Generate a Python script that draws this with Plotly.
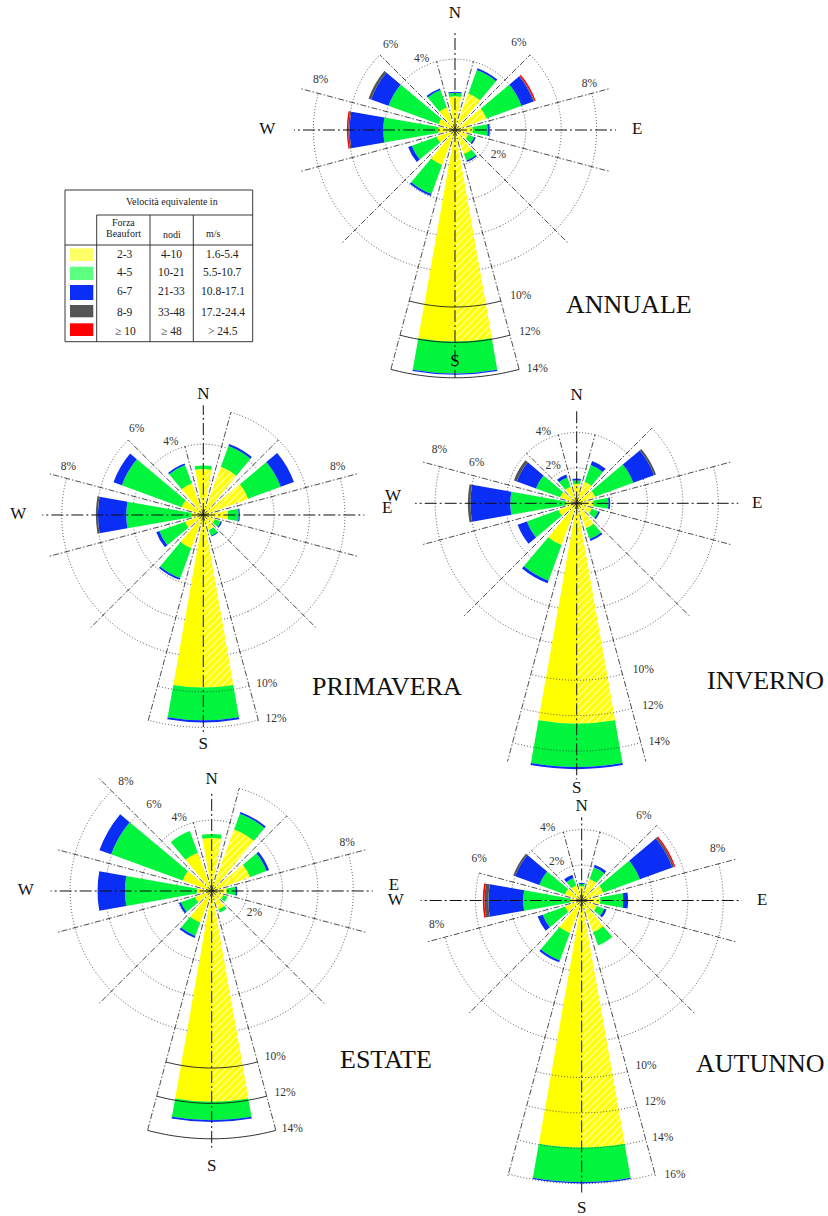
import math
import numpy as np
import plotly.graph_objects as go

W, H = 828, 1216
PX = 17.7          # pixels per 1 % of frequency
FONT = "Liberation Serif"

# ---------------- data ----------------
DIRS = [0, 30, 60, 90, 120, 150, 180, 210, 240, 270, 300, 330]
BOUNDS = [15, 45, 75, 105, 135, 165, 195, 225, 255, 285, 315, 345]

CLASS_LABELS = ["2-3", "4-5", "6-7", "8-9", "≥ 10"]
NODI = ["4-10", "10-21", "21-33", "33-48", "≥ 48"]
MS = ["1.6-5.4", "5.5-10.7", "10.8-17.1", "17.2-24.4", "> 24.5"]
COLORS = ["#FFFF00", "#00F53C", "#0A2EF5", "#555555", "#FF0000"]
SWATCH = ["#FFFF66", "#5CFF80", "#0A2EF5", "#555555", "#FF0000"]

ANNUALE_Y = [1.9, 2.2, 1.9, 1.0, 0.8, 1.45, 11.95, 2.1, 1.1, 0.95, 1.0, 1.35]
ANNUALE_G = [0.2, 1.4, 2.1, 0.85, 0.35, 0.4, 1.8, 1.75, 1.5, 3.1, 3.0, 1.05]
ANNUALE_B = [0.06, 0.12, 0.72, 0.12, 0.1, 0.08, 0.08, 0.12, 0.22, 1.9, 1.05, 0.1]
ANNUALE_K = [0, 0, 0.05, 0, 0, 0, 0, 0, 0, 0.08, 0.15, 0]
ANNUALE_R = [0, 0, 0.08, 0, 0, 0, 0, 0, 0, 0.08, 0, 0]

PRIMAVERA_Y = [2.6, 2.9, 2.7, 1.4, 0.7, 0.9, 9.75, 2.0, 1.1, 0.7, 1.3, 1.9]
PRIMAVERA_G = [0.2, 1.25, 1.95, 0.6, 0.35, 0.35, 1.85, 1.8, 1.55, 3.65, 3.6, 1.1]
PRIMAVERA_B = [0, 0.12, 0.8, 0.07, 0.08, 0.05, 0.12, 0.1, 0.18, 1.6, 0.5, 0.1]
PRIMAVERA_K = [0, 0, 0, 0, 0, 0, 0, 0, 0, 0.12, 0, 0]
PRIMAVERA_R = [0, 0, 0, 0, 0, 0, 0, 0, 0, 0, 0, 0]

INVERNO_Y = [1.1, 1.3, 1.1, 0.95, 0.9, 1.5, 12.45, 2.5, 1.1, 0.6, 1.0, 1.0]
INVERNO_G = [0.2, 1.0, 2.3, 0.85, 0.4, 0.65, 2.45, 2.15, 1.9, 3.15, 1.45, 0.55]
INVERNO_B = [0.1, 0.25, 1.25, 0.1, 0.1, 0.12, 0.12, 0.15, 0.55, 2.25, 1.15, 0.18]
INVERNO_K = [0, 0, 0.12, 0, 0, 0, 0, 0, 0, 0.15, 0.18, 0]
INVERNO_R = [0, 0, 0, 0, 0, 0, 0, 0, 0, 0, 0, 0]

ESTATE_Y = [3.0, 3.7, 2.3, 0.85, 0.7, 1.1, 11.9, 1.9, 1.0, 0.85, 1.75, 2.3]
ESTATE_G = [0.22, 0.95, 1.0, 0.5, 0.25, 0.2, 1.05, 0.8, 0.85, 4.05, 4.3, 1.3]
ESTATE_B = [0, 0.1, 0.15, 0.1, 0, 0, 0.1, 0.12, 0.12, 1.55, 0.7, 0]
ESTATE_K = [0, 0, 0, 0, 0, 0, 0, 0, 0, 0, 0, 0]
ESTATE_R = [0, 0, 0, 0, 0, 0, 0, 0, 0, 0, 0, 0]

AUTUNNO_Y = [0.8, 1.3, 1.3, 1.05, 0.9, 1.9, 13.95, 1.95, 1.0, 0.65, 1.0, 0.9]
AUTUNNO_G = [0.15, 0.7, 2.2, 1.3, 0.45, 0.8, 1.95, 1.65, 1.35, 2.65, 1.55, 0.45]
AUTUNNO_B = [0.05, 0.15, 1.95, 0.28, 0.15, 0, 0.08, 0.12, 0.3, 1.97, 1.45, 0.2]
AUTUNNO_K = [0, 0, 0.1, 0, 0, 0, 0, 0, 0, 0.22, 0.12, 0]
AUTUNNO_R = [0, 0, 0.08, 0, 0, 0, 0, 0, 0, 0.1, 0, 0]

# hatch of the 2-3 class (angular offset / width of the hatched part)
HATCH_OFFSET = [0, -10, -10, -10, -10, -10, -10, 0, 0, 0, 0, 0]
HATCH_WIDTH = [10, 20, 20, 20, 20, 20, 10, 0, 0, 0, 0, 0]

# polar panels: (sector in compass bearings, bearings owned for grid/labels, radial range)
PANELS_TOP = [([-50, 50], [-50, 50], 7.3),
              ([50, 160], [50, 155], 11.0),
              ([200, 310], [205, 310], 11.0)]
PANELS_FULL = [([0, 360], [205, 515], 11.0)]
S_SECTOR = [155, 205]
BASE_RING = 8      # rings up to this level lie beneath the bars

# ---------------- per-rose grid / label configuration ----------------
ROSES = [
    dict(title="ANNUALE", center=(455, 130), title_pos=(629, 304), panels=PANELS_TOP,
         vals=[ANNUALE_Y, ANNUALE_G, ANNUALE_B, ANNUALE_K, ANNUALE_R],
         arcs=[4, 4, 6, 8, 8, 8, 14, 8, 8, 8, 6, 4],
         lines=[4, 6, 9.1, 9.1, 9.1, 14.1, 14.1, 9.1, 9.1, 9.1, 6, 4],
         axes=dict(n=5.65, s=14.0, e=9.1, w=9.1),
         compass=dict(N=(6.55, 0), S=(13.1, 180), E=(10.3, 90), W=(10.6, 270)),
         pct=[("4%", 4.42, 334.8), ("6%", 6.02, 322.9), ("6%", 6.11, 36.2),
              ("8%", 8.1, 290.4), ("8%", 8.02, 71.1), ("2%", 2.83, 120),
              ("10%", 10.09, 158.4), ("12%", 12.2, 159.7), ("14%", 14.3, 161)],
         rs=14.6, outer_dash="solid"),
    dict(title="PRIMAVERA", center=(203.3, 515), title_pos=(387, 686), panels=PANELS_FULL,
         vals=[PRIMAVERA_Y, PRIMAVERA_G, PRIMAVERA_B, PRIMAVERA_K, PRIMAVERA_R],
         arcs=[4, 6, 6, 8, 8, 8, 12, 8, 8, 8, 6, 4],
         lines=[6, 6, 9.1, 9.1, 9.1, 12.1, 12.1, 9.1, 9.1, 9.1, 6, 4],
         axes=dict(n=6.2, s=12.4, e=9.1, w=9.1),
         compass=dict(N=(6.8, 0), S=(13.0, 180), E=(10.4, 88), W=(10.45, 270)),
         pct=[("4%", 4.53, 336.2), ("6%", 6.13, 322.2), ("8%", 8.09, 289.5),
              ("8%", 8.06, 70.5), ("10%", 10.2, 159.4), ("12%", 12.25, 160.4)],
         rs=13.5, outer_dash="1px,2px"),
    dict(title="INVERNO", center=(576.7, 503.3), title_pos=(765, 680), panels=PANELS_FULL,
         vals=[INVERNO_Y, INVERNO_G, INVERNO_B, INVERNO_K, INVERNO_R],
         arcs=[4, 4, 6, 8, 8, 8, 14, 8, 8, 8, 4, 4],
         lines=[4, 6, 9.1, 9.1, 9.1, 15.1, 15.1, 9.1, 9.1, 9.1, 4, 4],
         axes=dict(n=5.27, s=15.6, e=9.13, w=9.13),
         compass=dict(N=(6.05, 0), S=(16.1, 180), E=(10.2, 90), W=(10.38, 272)),
         pct=[("4%", 4.46, 335), ("2%", 2.49, 327.9), ("8%", 8.31, 291),
              ("6%", 6.08, 291.8), ("10%", 10.14, 158.2), ("12%", 12.23, 159.4),
              ("14%", 14.25, 160.9)],
         rs=16.5, outer_dash="1px,2px"),
    dict(title="ESTATE", center=(211.7, 891), title_pos=(386, 1059), panels=PANELS_FULL,
         vals=[ESTATE_Y, ESTATE_G, ESTATE_B, ESTATE_K, ESTATE_R],
         arcs=[4, 6, 6, 8, 8, 8, 14, 8, 8, 8, 8, 4],
         lines=[6, 6, 9.1, 9.1, 9.1, 14.1, 14.1, 9.1, 9.1, 9.1, 9.1, 4],
         axes=dict(n=5.5, s=14.5, e=9.1, w=9.1),
         compass=dict(N=(6.3, 0), S=(15.6, 180), E=(10.3, 88.5), W=(10.5, 270)),
         pct=[("8%", 7.85, 321.9), ("6%", 5.85, 326.1), ("4%", 4.5, 335.8),
              ("8%", 8.13, 70.4), ("2%", 2.72, 117.6), ("10%", 10.06, 159.1),
              ("12%", 12.16, 160.1), ("14%", 14.2, 161.3)],
         rs=16.0, outer_dash="solid"),
    dict(title="AUTUNNO", center=(581.7, 900.5), title_pos=(760, 1063), panels=PANELS_FULL,
         vals=[AUTUNNO_Y, AUTUNNO_G, AUTUNNO_B, AUTUNNO_K, AUTUNNO_R],
         arcs=[4, 4, 6, 8, 8, 8, 16, 8, 8, 6, 4, 4],
         lines=[4, 6, 9.1, 9.1, 9.1, 16.1, 16.1, 9.1, 9.1, 6, 4, 4],
         axes=dict(n=4.7, s=16.6, e=9.05, w=9.1),
         compass=dict(N=(5.27, 0), S=(17.4, 180), E=(10.2, 90), W=(10.5, 270)),
         pct=[("4%", 4.52, 334.8), ("2%", 2.59, 327), ("6%", 5.93, 36.4),
              ("8%", 8.2, 69.4), ("6%", 6.25, 292.2), ("8%", 8.31, 260.2),
              ("10%", 10.04, 158.8), ("12%", 12.12, 160), ("14%", 14.2, 161.2),
              ("16%", 16.37, 161.2)],
         rs=17.6, outer_dash="1px,2px"),
]

ARC_DASH = "1px,2px"
RAD_DASH = "6px,2px,1.5px,2px"
AX_DASH = "12px,3px,2px,3px"


# ---------------- helpers ----------------
def sector_bbox(m0, m1):
    """bounding box (unit circle) of a polar sector given in math degrees"""
    if m1 - m0 >= 360:
        return -1.0, -1.0, 1.0, 1.0
    angs = [m0, m1] + [a for a in range(-720, 721, 90) if m0 <= a <= m1]
    xs = [0.0] + [math.cos(math.radians(a)) for a in angs]
    ys = [0.0] + [math.sin(math.radians(a)) for a in angs]
    return min(xs), min(ys), max(xs), max(ys)


def inside(b, rng):
    return any(rng[0] <= b + k <= rng[1] for k in (-720, -360, 0, 360, 720))


def wedge_inside(c, half, rng):
    return any(rng[0] <= c - half + k and c + half + k <= rng[1]
               for k in (-720, -360, 0, 360, 720))


def intersect(a0, a1, rng):
    out = []
    for k in (-360, 0, 360):
        lo, hi = max(a0 + k, rng[0]), min(a1 + k, rng[1])
        if hi > lo:
            out.append((lo, hi))
    return out


# ---------------- build panels ----------------
panels = []
for i, rose in enumerate(ROSES):
    for sec, own, R in rose["panels"]:
        panels.append(dict(rose=i, sector=sec, own=own, R=R, s=False))
for i, rose in enumerate(ROSES):
    panels.append(dict(rose=i, sector=S_SECTOR, own=S_SECTOR, R=rose["rs"], s=True))

polar_layouts = {}
for j, p in enumerate(panels):
    p["id"] = "polar" if j == 0 else f"polar{j + 1}"
    for key in ("arc_r", "arc_t", "oarc_r", "oarc_t", "rad_r", "rad_t", "ax_r", "ax_t"):
        p[key] = []
    p["pct"] = []
    p["cmp"] = []
    cx, cy = ROSES[p["rose"]]["center"]
    b0, b1 = p["sector"]
    m0, m1 = 90 - b1, 90 - b0
    x0, y0, x1, y1 = sector_bbox(m0, m1)
    rpx = p["R"] * PX
    left, right = cx + x0 * rpx, cx + x1 * rpx
    top, bottom = cy - y1 * rpx, cy - y0 * rpx
    lay = dict(
        domain=dict(x=[max(0, left / W), min(1, right / W)],
                    y=[max(0, 1 - bottom / H), min(1, 1 - top / H)]),
        radialaxis=dict(range=[0, p["R"]], visible=False),
        angularaxis=dict(rotation=90, direction="clockwise", visible=False),
        bgcolor="rgba(0,0,0,0)", barmode="overlay")
    if m1 - m0 < 360:
        lay["sector"] = [m0, m1]
    polar_layouts[p["id"]] = lay

fig = go.Figure()

for i, rose in enumerate(ROSES):
    rp = sorted([p for p in panels if p["rose"] == i], key=lambda q: not q["s"])

    def owner(b):
        for q in rp:
            if inside(b, q["own"]):
                return q
        return rp[-1]

    def bar_panel(c):
        if c == 180:
            return rp[0]
        for q in rp[1:]:
            if wedge_inside(c, 10, q["sector"]):
                return q
        return rp[1]

    dirs = np.array(DIRS)
    assign = np.array([panels.index(bar_panel(c)) for c in DIRS])
    totals = np.sum(np.array(rose["vals"], dtype=float), axis=0)

    # ---- bars (stacked by explicit base) ----
    base = np.zeros(len(DIRS))
    hw = np.array(HATCH_WIDTH, dtype=float)
    ho = np.array(HATCH_OFFSET, dtype=float)
    for c, v in enumerate(rose["vals"]):
        v = np.array(v, dtype=float)
        for pj in sorted(set(assign)):
            keep = (assign == pj) & (v > 0)
            if keep.any():
                fig.add_trace(go.Barpolar(
                    r=v[keep], theta=dirs[keep], base=base[keep], width=20,
                    marker=dict(color=COLORS[c], line=dict(width=0)),
                    subplot=panels[pj]["id"], hoverinfo="skip", showlegend=False))
            if c == 0:
                keep = (assign == pj) & (v > 0) & (hw > 0)
                if keep.any():
                    fig.add_trace(go.Barpolar(
                        r=v[keep], theta=dirs[keep], base=np.zeros(int(keep.sum())),
                        width=hw[keep], offset=ho[keep],
                        marker=dict(color=COLORS[0], line=dict(width=0),
                                    pattern=dict(shape="/", fgcolor="white",
                                                 bgcolor=COLORS[0], size=5,
                                                 solidity=0.22, fgopacity=0.75)),
                        subplot=panels[pj]["id"], hoverinfo="skip", showlegend=False))
        base = base + v

    # ---- grid arcs (rings beneath the bars are only drawn in the gaps) ----
    for k, c in enumerate(DIRS):
        for lev in range(2, int(round(rose["arcs"][k])) + 1, 2):
            if lev <= BASE_RING and lev < totals[k]:
                spans = [(c - 15, c - 10), (c + 10, c + 15)]
                key = "arc"
            elif lev > BASE_RING:
                spans = [(c - 15, c + 15)]
                key = "oarc"
            else:
                spans = [(c - 15, c + 15)]
                key = "arc"
            for a0, a1 in spans:
                for q in rp:
                    for lo, hi in intersect(a0, a1, q["own"]):
                        th = list(np.arange(lo, hi, 1.0)) + [hi]
                        q[key + "_r"] += [lev] * len(th) + [None]
                        q[key + "_t"] += th + [None]
    # ---- sector boundary lines ----
    for b, ext in zip(BOUNDS, rose["lines"]):
        q = owner(b)
        q["rad_r"] += [0, ext, None]
        q["rad_t"] += [b, b, None]
    # ---- N-S / E-W axes ----
    ax = rose["axes"]
    for b, ext in ((0, ax["n"]), (180, ax["s"]), (90, ax["e"]), (270, ax["w"])):
        q = owner(b)
        q["ax_r"] += [0, ext, None]
        q["ax_t"] += [b, b, None]
    # ---- labels ----
    for t, r, b in rose["pct"]:
        owner(b)["pct"].append((t, r, b))
    for t, (r, b) in rose["compass"].items():
        owner(b)["cmp"].append((t, r, b))

    for q in rp:
        sub = q["id"]
        if q["arc_r"]:
            fig.add_trace(go.Scatterpolar(
                r=q["arc_r"], theta=q["arc_t"], mode="lines", subplot=sub,
                line=dict(color="#3a3a3a", width=0.8, dash=ARC_DASH),
                cliponaxis=False, hoverinfo="skip", showlegend=False))
        if q["oarc_r"]:
            solid = rose["outer_dash"] == "solid"
            fig.add_trace(go.Scatterpolar(
                r=q["oarc_r"], theta=q["oarc_t"], mode="lines", subplot=sub,
                line=dict(color="#1a1a1a" if solid else "#3a3a3a",
                          width=0.9 if solid else 0.8, dash=rose["outer_dash"]),
                cliponaxis=False, hoverinfo="skip", showlegend=False))
        if q["rad_r"]:
            fig.add_trace(go.Scatterpolar(
                r=q["rad_r"], theta=q["rad_t"], mode="lines", subplot=sub,
                line=dict(color="#222222", width=0.8, dash=RAD_DASH),
                cliponaxis=False, hoverinfo="skip", showlegend=False))
        if q["ax_r"]:
            fig.add_trace(go.Scatterpolar(
                r=q["ax_r"], theta=q["ax_t"], mode="lines", subplot=sub,
                line=dict(color="#111111", width=1.0, dash=AX_DASH),
                cliponaxis=False, hoverinfo="skip", showlegend=False))
        if q["pct"]:
            fig.add_trace(go.Scatterpolar(
                r=[x[1] for x in q["pct"]], theta=[x[2] for x in q["pct"]],
                text=[x[0] for x in q["pct"]], mode="text", subplot=sub,
                textfont=dict(family=FONT, size=11.5, color="#333333"),
                cliponaxis=False, hoverinfo="skip", showlegend=False))
        if q["cmp"]:
            fig.add_trace(go.Scatterpolar(
                r=[x[1] for x in q["cmp"]], theta=[x[2] for x in q["cmp"]],
                text=[x[0] for x in q["cmp"]], mode="text", subplot=sub,
                textfont=dict(family=FONT, size=17, color="#111111"),
                cliponaxis=False, hoverinfo="skip", showlegend=False))

# ---------------- titles ----------------
annotations = []
for rose in ROSES:
    tx, ty = rose["title_pos"]
    annotations.append(dict(x=tx / W, y=1 - ty / H, xref="paper", yref="paper",
                            text=rose["title"], showarrow=False,
                            font=dict(family=FONT, size=26, color="#111111"),
                            xanchor="center", yanchor="middle"))

# ---------------- legend table ----------------
TB_L, TB_R, TB_T, TB_B = 65, 252.7, 190, 341.7
COL1, COL2, COL3 = 96.7, 150, 193.3
HDR_Y, COLHDR_Y = 215, 245
ROW_Y = [254, 272.3, 291, 311.7, 330.7]
SW_Y = [(248.3, 261), (266.7, 280), (285, 300), (305, 317.3), (323.3, 336)]


def px2p(x, y):
    return x / W, 1 - y / H


shapes = []


def pline(x0, y0, x1, y1, w=0.9):
    a = px2p(x0, y0)
    b = px2p(x1, y1)
    shapes.append(dict(type="line", xref="paper", yref="paper", x0=a[0], y0=a[1],
                       x1=b[0], y1=b[1], line=dict(color="#222222", width=w)))


a = px2p(TB_L, TB_T)
b = px2p(TB_R, TB_B)
shapes.append(dict(type="rect", xref="paper", yref="paper", x0=a[0], y0=b[1],
                   x1=b[0], y1=a[1], line=dict(color="#222222", width=0.9),
                   fillcolor="white", layer="below"))
pline(COL1, HDR_Y, TB_R, HDR_Y)
pline(TB_L, COLHDR_Y, TB_R, COLHDR_Y)
for xc in (COL1, COL2, COL3):
    pline(xc, HDR_Y, xc, TB_B)
for (y0, y1), col in zip(SW_Y, SWATCH):
    a = px2p(70, y0)
    b = px2p(93.3, y1)
    shapes.append(dict(type="rect", xref="paper", yref="paper", x0=a[0], y0=b[1],
                       x1=b[0], y1=a[1], line=dict(width=0), fillcolor=col))


def ptext(x, y, t, size=11.5):
    p = px2p(x, y)
    annotations.append(dict(x=p[0], y=p[1], xref="paper", yref="paper", text=t,
                            showarrow=False, xanchor="center", yanchor="middle",
                            font=dict(family=FONT, size=size, color="#222222")))


ptext(172, 201.5, "Velocità equivalente in", 10)
ptext(123.3, 222.5, "Forza", 10)
ptext(123.3, 233.5, "Beaufort", 10)
ptext(171.5, 234, "nodi", 10)
ptext(214, 233.5, "m/s", 10)
for yy, c1, c2, c3 in zip(ROW_Y, CLASS_LABELS, NODI, MS):
    ptext(125, yy, c1)
    ptext(171.5, yy, c2)
    ptext(223, yy, c3)

fig.update_layout(
    width=W, height=H, margin=dict(l=0, r=0, t=0, b=0),
    paper_bgcolor="white", plot_bgcolor="white", showlegend=False,
    annotations=annotations, shapes=shapes, **polar_layouts)

fig.write_html("out.html")
